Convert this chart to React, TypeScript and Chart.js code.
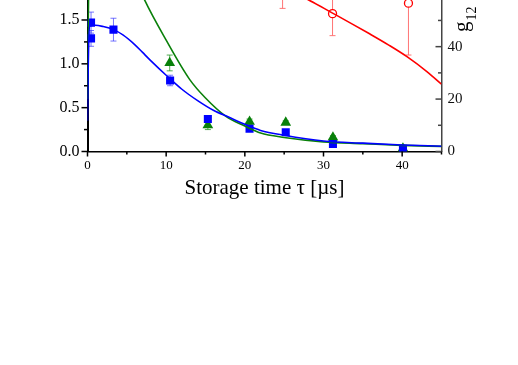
import React, { useEffect, useRef } from 'react';
import { Chart, registerables } from 'chart.js';
Chart.register(...registerables);

// ---- data ----
const blueX = [0.45, 0.45, 3.3, 10.5, 15.3, 20.6, 25.2, 31.2, 40.1];
const blueY = [1.29, 1.47, 1.39, 0.81, 0.37, 0.26, 0.22, 0.085, 0.03];
const blueErr = [0.09, 0.12, 0.13, 0.06, 0.03, 0.02, 0.02, 0.01, 0.01];

const greenX = [10.45, 15.3, 20.6, 25.2, 31.2, 40.1];
const greenY = [1.01, 0.3, 0.34, 0.33, 0.16, 0.036];
const greenErr = [0.09, 0.05, 0.03, 0.02, 0.02, 0.01];

const redX = [24.8, 31.15, 40.8];
const redY = [63, 52.6, 56.6];
const redErr = [8.4, 8.4, 19.8];

const blueFitX = [0, 0.1, 0.25, 1, 2, 3.3, 4.5, 6, 7, 8, 10, 12, 14, 16, 18, 20, 22, 25, 30, 35, 40, 45];
const blueFitY = [0.35, 1.0, 1.43, 1.44, 1.425, 1.39, 1.33, 1.22, 1.13, 1.04, 0.87, 0.71, 0.58, 0.47, 0.39, 0.31, 0.24, 0.185, 0.12, 0.095, 0.075, 0.06];

const greenFitX = [0, 0.1, 0.3, 1, 3, 5, 7.3, 10, 13, 15, 17.6, 20, 22, 25, 30, 35, 40, 45];
const greenFitY = [0.6, 1.5, 2.6, 2.9, 2.7, 2.2, 1.72, 1.27, 0.82, 0.61, 0.4, 0.29, 0.21, 0.16, 0.11, 0.09, 0.07, 0.058];

const redFitX = [15, 20, 24, 28, 31.15, 33.5, 35.8, 38.3, 40.7, 43.1, 45];
const redFitY = [72, 68.5, 63.5, 58.0, 52.8, 48.9, 45.0, 40.6, 36.0, 30.6, 25.7];

const xMajor = [0, 10, 20, 30, 40];
const xMinor = [5, 15, 25, 35, 45];
const yMajor = [0, 0.5, 1.0, 1.5];
const yMinor = [0.25, 0.75, 1.25];
const y1Major = [0, 20, 40];
const y1Minor = [10, 30, 50];

const xTitle = 'Storage time τ [µs]';
const y1TitleMain = 'g';
const y1TitleSub = '12';

const W = 518;
const H = 365;
const SERIF = "'Liberation Serif', 'Times New Roman', serif";

const pts = (xs: number[], ys: number[]) => xs.map((x, i) => ({ x, y: ys[i] }));

export default function App() {
  const ref = useRef<HTMLCanvasElement>(null);
  useEffect(() => {
    const errorBars = {
      id: 'errorBars',
      beforeDatasetsDraw(chart: any) {
        const ctx = chart.ctx;
        const xs = chart.scales.x;
        const sets = [
          { X: blueX, Y: blueY, E: blueErr, s: chart.scales.y, c: 'rgba(70,70,255,0.75)' },
          { X: greenX, Y: greenY, E: greenErr, s: chart.scales.y, c: 'rgba(40,150,40,0.8)' },
          { X: redX, Y: redY, E: redErr, s: chart.scales.y1, c: 'rgba(255,110,110,0.95)' },
        ];
        ctx.save();
        ctx.lineWidth = 1;
        for (const st of sets) {
          ctx.strokeStyle = st.c;
          st.X.forEach((xv, i) => {
            const px = xs.getPixelForValue(xv);
            const top = st.s.getPixelForValue(st.Y[i] + st.E[i]);
            const bot = st.s.getPixelForValue(st.Y[i] - st.E[i]);
            ctx.beginPath();
            ctx.moveTo(px, top);
            ctx.lineTo(px, bot);
            ctx.moveTo(px - 3, top);
            ctx.lineTo(px + 3, top);
            ctx.moveTo(px - 3, bot);
            ctx.lineTo(px + 3, bot);
            ctx.stroke();
          });
        }
        ctx.restore();
      },
    };
    const tickMarks = {
      id: 'tickMarks',
      afterDraw(chart: any) {
        const ctx = chart.ctx;
        const { x, y, y1 } = chart.scales;
        const area = chart.chartArea;
        ctx.save();
        ctx.lineWidth = 1.5;
        ctx.strokeStyle = '#000';
        const hx = (vals: number[], len: number) => {
          vals.forEach((v) => {
            const p = x.getPixelForValue(v);
            ctx.beginPath();
            ctx.moveTo(p, area.bottom);
            ctx.lineTo(p, area.bottom + len);
            ctx.stroke();
          });
        };
        hx(xMajor, 5);
        hx(xMinor, 3);
        const vy = (s: any, vals: number[], len: number, x0: number, dir: number, col: string) => {
          ctx.strokeStyle = col;
          vals.forEach((v) => {
            const p = s.getPixelForValue(v);
            ctx.beginPath();
            ctx.moveTo(x0, p);
            ctx.lineTo(x0 + dir * len, p);
            ctx.stroke();
          });
        };
        vy(y, yMajor, 6, area.left, -1, '#000');
        vy(y, yMinor, 3.5, area.left, -1, '#000');
        vy(y1, y1Major, 6, area.right, -1, '#444');
        vy(y1, y1Minor, 3.5, area.right, -1, '#444');
        // right axis title (rotated, reading bottom to top)
        ctx.fillStyle = '#000';
        ctx.translate(468, 32);
        ctx.rotate(-Math.PI / 2);
        ctx.textBaseline = 'alphabetic';
        ctx.textAlign = 'left';
        ctx.font = `21px ${SERIF}`;
        ctx.fillText(y1TitleMain, 0, 0);
        const gw = ctx.measureText(y1TitleMain).width;
        ctx.font = `14px ${SERIF}`;
        ctx.fillText(y1TitleSub, gw + 1, 8);
        ctx.restore();
      },
    };

    const fixBox = (w: number | null, h: number | null) => (scale: any) => {
      if (w !== null) scale.width = w;
      if (h !== null) scale.height = h;
      scale.paddingTop = 0;
      scale.paddingBottom = 0;
      scale.paddingLeft = 0;
      scale.paddingRight = 0;
    };
    const setTicks = (vals: number[]) => (scale: any) => {
      scale.ticks = vals.map((v) => ({ value: v }));
    };

    const chart = new Chart(ref.current!, {
      type: 'scatter',
      data: {
        datasets: [
          {
            data: pts(blueFitX, blueFitY),
            showLine: true,
            borderColor: '#0000ff',
            borderWidth: 1.6,
            pointRadius: 0,
            cubicInterpolationMode: 'monotone',
            yAxisID: 'y',
          },
          {
            data: pts(greenFitX, greenFitY),
            showLine: true,
            borderColor: '#0a800a',
            borderWidth: 1.6,
            pointRadius: 0,
            cubicInterpolationMode: 'monotone',
            yAxisID: 'y',
          },
          {
            data: pts(redFitX, redFitY),
            showLine: true,
            borderColor: '#ff0000',
            borderWidth: 1.6,
            pointRadius: 0,
            cubicInterpolationMode: 'monotone',
            yAxisID: 'y1',
          },
          {
            data: pts(blueX, blueY),
            pointStyle: 'rect',
            pointRadius: 5.7,
            backgroundColor: '#0000ff',
            borderColor: '#0000ff',
            borderWidth: 0,
            yAxisID: 'y',
          },
          {
            data: pts(greenX, greenY),
            pointStyle: 'triangle',
            pointRadius: 6.2,
            backgroundColor: '#08800a',
            borderColor: '#08800a',
            borderWidth: 0,
            yAxisID: 'y',
          },
          {
            data: pts(redX, redY),
            pointStyle: 'circle',
            pointRadius: 4,
            backgroundColor: '#ffffff',
            borderColor: '#ff0000',
            borderWidth: 1.3,
            yAxisID: 'y1',
          },
        ] as any,
      },
      options: {
        responsive: false,
        animation: false,
        devicePixelRatio: 1,
        layout: { padding: 0, autoPadding: false },
        plugins: { legend: { display: false }, tooltip: { enabled: false } },
        scales: {
          x: {
            type: 'linear',
            min: 0,
            max: 45,
            afterBuildTicks: setTicks(xMajor),
            afterFit: fixBox(null, H - 151.5),
            grid: { display: true, drawOnChartArea: false, tickLength: 3, tickColor: 'rgba(0,0,0,0)' },
            border: { display: true, color: '#000', width: 1.5 },
            ticks: { color: '#000', padding: 3, font: { family: SERIF, size: 13 }, maxRotation: 0 },
            title: {
              display: true,
              text: xTitle,
              color: '#000',
              font: { family: SERIF, size: 21 },
              padding: { top: 0, bottom: 164 },
            },
          },
          y: {
            type: 'linear',
            position: 'left',
            min: 0,
            max: 1.728,
            afterBuildTicks: setTicks(yMajor),
            afterFit: fixBox(87.5, null),
            grid: { display: true, drawOnChartArea: false, tickLength: 3, tickColor: 'rgba(0,0,0,0)' },
            border: { display: true, color: '#000', width: 2 },
            ticks: {
              color: '#000',
              padding: 5,
              font: { family: SERIF, size: 16 },
              callback: (v: any) => Number(v).toFixed(1),
            },
          },
          y1: {
            type: 'linear',
            position: 'right',
            min: 0,
            max: 57.8,
            afterBuildTicks: setTicks(y1Major),
            afterFit: fixBox(W - 441.5, null),
            grid: { display: true, drawOnChartArea: false, tickLength: 3, tickColor: 'rgba(0,0,0,0)' },
            border: { display: true, color: '#444', width: 1.5 },
            ticks: {
              color: '#111',
              padding: 3,
              font: { family: SERIF, size: 15 },
              callback: (v: any) => String(v),
            },
          },
        },
      } as any,
      plugins: [errorBars, tickMarks],
    });
    return () => chart.destroy();
  }, []);

  return (
    <div style={{ position: 'fixed', left: 0, top: 0, width: W, height: H, background: '#fff' }}>
      <canvas ref={ref} width={W} height={H} style={{ display: 'block', width: W, height: H }} />
    </div>
  );
}
